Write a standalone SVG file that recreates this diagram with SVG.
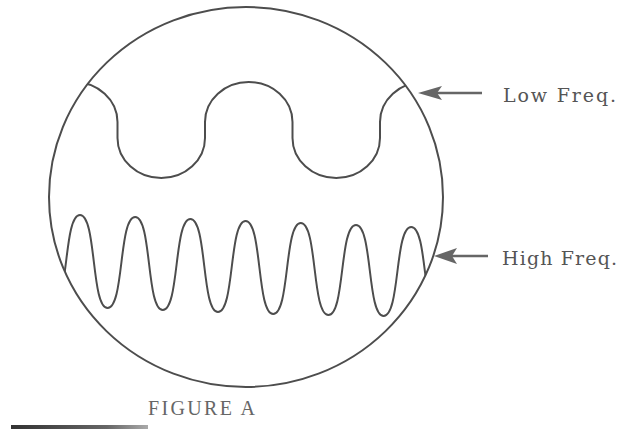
<svg xmlns="http://www.w3.org/2000/svg" width="624" height="429" viewBox="0 0 624 429">
<style>
.ln{fill:none;stroke:#4d4d4d;stroke-width:2}
.lbl{font-family:"DejaVu Serif","Liberation Serif",serif;font-size:19px;fill:#555}
.cap{font-family:"Liberation Serif",serif;font-size:20px;fill:#666}
.ah{fill:#666}
.sh{stroke:#666;stroke-width:2.5;fill:none}
</style>
<defs>
<clipPath id="scope"><ellipse cx="246" cy="197" rx="197" ry="190"/></clipPath>
<linearGradient id="bar" x1="0" x2="1" y1="0" y2="0">
<stop offset="0" stop-color="#333"/><stop offset="0.7" stop-color="#666"/><stop offset="1" stop-color="#aaa"/>
</linearGradient>
</defs>
<rect width="624" height="429" fill="#fff"/>
<g id="scope-screen">
<ellipse class="ln" cx="246" cy="197" rx="197" ry="190"/>
</g>
<g id="low-freq-wave" clip-path="url(#scope)">
<path class="ln" d="M 30 138 L 30 122 A 43.75 40 0 0 1 117.5 122 L 117.5 138 A 43.75 40 0 0 0 205 138 L 205 122 A 43.75 40 0 0 1 292.5 122 L 292.5 138 A 43.75 40 0 0 0 380 138 L 380 122 A 43.75 40 0 0 1 467.5 122"/>
</g>
<g id="high-freq-wave" clip-path="url(#scope)">
<path class="ln" d="M 52.4 306 C 69 306 63.4 215 80 215 S 91 308 107.6 308 S 118.6 217 135.2 217 S 146.2 310 162.8 310 S 173.8 219 190.4 219 S 201.4 312 218 312 S 229 221 245.6 221 S 256.6 314 273.2 314 S 284.2 223 300.8 223 S 311.8 315 328.4 315 S 339.4 225 356 225 S 367 316 383.6 316 S 394.6 227 411.2 227 S 422.2 317 438.8 317"/>
</g>
<g id="connectors">
<line class="sh" x1="437" y1="93" x2="482" y2="93"/>
<polygon class="ah" points="418,93 442,86 437,93 442,100"/>
<line class="sh" x1="452" y1="256" x2="488" y2="256"/>
<polygon class="ah" points="434,256 457,248 452,256 457,264"/>
</g>
<g id="label-low">
<text class="lbl" x="503" y="102" textLength="113" lengthAdjust="spacing">Low Freq.</text>
</g>
<g id="label-high">
<text class="lbl" x="502" y="265" textLength="115" lengthAdjust="spacing">High Freq.</text>
</g>
<g id="caption">
<text class="cap" x="148" y="415" textLength="107" lengthAdjust="spacing">FIGURE A</text>
<rect x="11" y="425" width="137" height="4" fill="url(#bar)"/>
</g>
</svg>
